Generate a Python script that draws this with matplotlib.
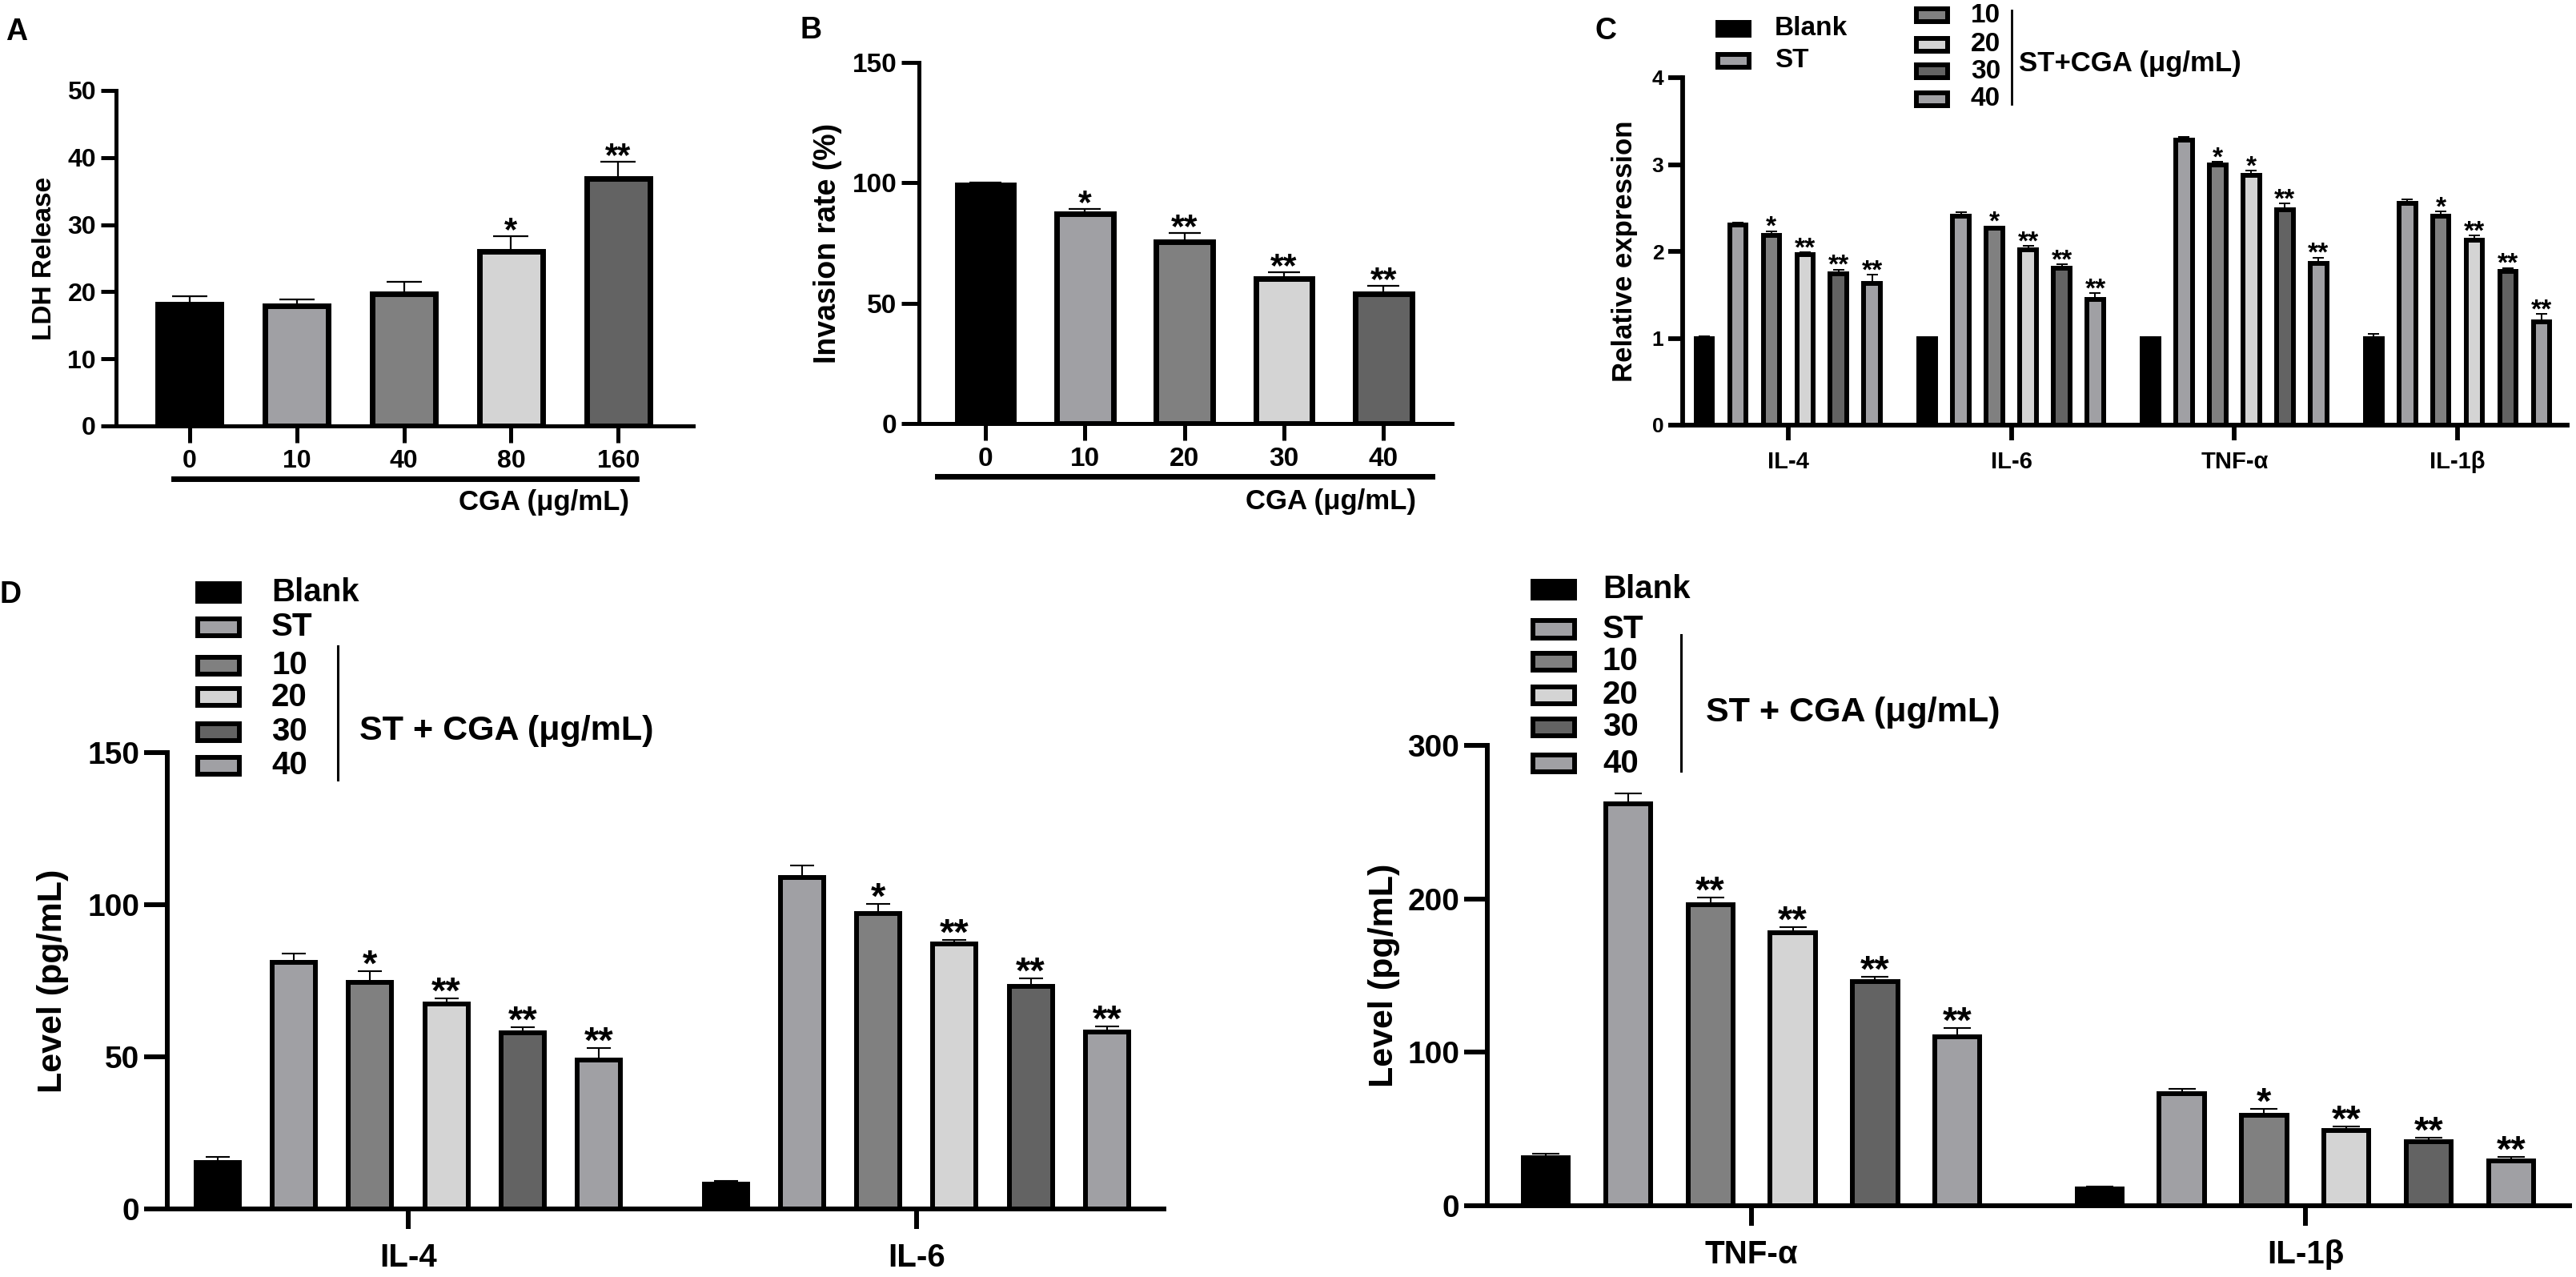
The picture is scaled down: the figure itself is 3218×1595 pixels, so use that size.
import numpy as np
import matplotlib
matplotlib.use('Agg')
import matplotlib.pyplot as plt
from matplotlib import font_manager
from matplotlib.patches import Rectangle
from matplotlib.lines import Line2D
import matplotlib.transforms as mtransforms

W, H = 3218, 1595
DPI = 100

names = {f.name for f in font_manager.fontManager.ttflist}
MAIN = 'Liberation Sans' if 'Liberation Sans' in names else 'DejaVu Sans'
plt.rcParams['font.family'] = [MAIN, 'DejaVu Sans']
plt.rcParams['font.weight'] = 'bold'

# ---- data -------------------------------------------------------------
# panel A
a_doses = ['0', '10', '40', '80', '160']
a_ldh = [18.1, 17.9, 19.7, 26.0, 36.9]
a_ldh_err = [1.2, 1.0, 1.8, 2.3, 2.5]
a_stars = ['', '', '', '*', '**']

# panel B
b_doses = ['0', '10', '20', '30', '40']
b_inv = [99.2, 87.2, 75.6, 60.3, 53.8]
b_inv_err = [1.0, 1.8, 3.5, 2.7, 3.3]
b_stars = ['', '*', '**', '**', '**']

dose_colors = ['#000000', '#a0a0a4', '#808080', '#d4d4d4', '#636363']

# shared groups for C and D
groups = ['Blank', 'ST', '10', '20', '30', '40']
group_colors = ['#000000', '#a0a0a4', '#808080', '#d4d4d4', '#636363', '#a0a0a4']

# panel C (relative expression)
c_genes = ['IL-4', 'IL-6', 'TNF-α', 'IL-1β']
c_blank = [1.00, 1.00, 1.00, 1.00]
c_st = [2.30, 2.41, 3.28, 2.55]
c_10 = [2.18, 2.27, 3.00, 2.41]
c_20 = [1.96, 2.02, 2.88, 2.13]
c_30 = [1.74, 1.81, 2.48, 1.77]
c_40 = [1.63, 1.45, 1.86, 1.19]
c_blank_err = [0.02, 0.00, 0.01, 0.05]
c_st_err = [0.03, 0.04, 0.04, 0.05]
c_10_err = [0.05, 0.02, 0.03, 0.05]
c_20_err = [0.03, 0.04, 0.05, 0.05]
c_30_err = [0.05, 0.04, 0.07, 0.04]
c_40_err = [0.10, 0.07, 0.07, 0.09]
c_stars_10 = ['*', '*', '*', '*']
c_stars_20 = ['**', '**', '*', '**']
c_stars_30 = ['**', '**', '**', '**']
c_stars_40 = ['**', '**', '**', '**']

# panel D left
d1_genes = ['IL-4', 'IL-6']
d1_blank = [15.2, 8.2]
d1_st = [81.0, 109.0]
d1_10 = [74.5, 97.1]
d1_20 = [67.3, 87.0]
d1_30 = [57.9, 73.2]
d1_40 = [49.0, 58.2]
d1_blank_err = [1.8, 1.1]
d1_st_err = [3.0, 3.8]
d1_10_err = [3.7, 3.2]
d1_20_err = [1.9, 1.3]
d1_30_err = [1.9, 2.6]
d1_40_err = [4.0, 1.9]
d1_stars_10 = ['*', '*']
d1_stars_20 = ['**', '**']
d1_stars_30 = ['**', '**']
d1_stars_40 = ['**', '**']

# panel D right
d2_genes = ['TNF-α', 'IL-1β']
d2_blank = [31.5, 10.8]
d2_st = [262.0, 72.8]
d2_10 = [196.0, 59.0]
d2_20 = [178.0, 49.0]
d2_30 = [146.0, 42.0]
d2_40 = [110.0, 29.2]
d2_blank_err = [2.5, 1.9]
d2_st_err = [6.5, 3.2]
d2_10_err = [5.0, 4.0]
d2_20_err = [3.5, 2.8]
d2_30_err = [3.0, 2.5]
d2_40_err = [6.0, 2.6]
d2_stars_10 = ['**', '*']
d2_stars_20 = ['**', '**']
d2_stars_30 = ['**', '**']
d2_stars_40 = ['**', '**']

# ---- helpers ----------------------------------------------------------
fig = plt.figure(figsize=(W / DPI, H / DPI), dpi=DPI)


def px_axes(left, top, right, bottom):
    return fig.add_axes([left / W, 1 - bottom / H, (right - left) / W, (bottom - top) / H])


def fx(x):
    return x / W


def fy(y):
    return 1 - y / H


def style(ax, lw, ylen, xlen, yfs, xfs, xpad):
    for s in ['top', 'right']:
        ax.spines[s].set_visible(False)
    for s in ['left', 'bottom']:
        ax.spines[s].set_linewidth(lw)
    ax.tick_params(axis='y', width=lw, length=ylen, labelsize=yfs, pad=4)
    ax.tick_params(axis='x', width=lw, length=xlen, labelsize=xfs, pad=xpad)
    for t in ax.get_xticklabels() + ax.get_yticklabels():
        t.set_fontweight('bold')


def bars_with_err(ax, x, vals, errs, stars, colors, width, elw, lw, cap, sfs):
    ax.bar(x, vals, width=width, color=colors, edgecolor='black', linewidth=lw, zorder=2)
    ax.errorbar(x, vals, yerr=[np.zeros(len(errs)), errs], fmt='none', ecolor='black',
                elinewidth=elw, capsize=cap, capthick=elw, zorder=3)
    for xi, v, e, s in zip(x, vals, errs, stars):
        if s:
            ax.annotate(s, (xi, v + e), xytext=(0, -sfs * 0.12), textcoords='offset points',
                        ha='center', va='baseline', fontsize=sfs, fontweight='bold')


def panel_letter(x, y, s):
    fig.text(fx(x), fy(y), s, fontsize=27, fontweight='bold', ha='left', va='baseline')


def legend_rows(names_, colors, xbox, ys, bw, bh, xtext, fs, lw):
    for n, c, y in zip(names_, colors, ys):
        fig.add_artist(Rectangle((fx(xbox), fy(y + bh / 2)), bw / W, bh / H,
                                 transform=fig.transFigure, facecolor=c,
                                 edgecolor='black', linewidth=lw))
        fig.text(fx(xtext), fy(y), n, fontsize=fs, fontweight='bold', ha='left', va='center')


# ---- panel A ----------------------------------------------------------
axA = px_axes(145, 113, 866, 532)
xa = np.arange(len(a_ldh))
bars_with_err(axA, xa, a_ldh, a_ldh_err, a_stars, dose_colors, 0.59, 1.6, 5, 16, 30)
axA.set_xlim(-0.687, 4.70)
axA.set_ylim(0, 50)
axA.set_yticks(np.arange(0, 51, 10))
axA.set_xticks(xa)
axA.set_xticklabels(a_doses)
style(axA, 3.6, 14, 15, 23, 23, 6)
axA.set_ylabel('LDH Release', fontsize=24, fontweight='bold', va='center')
axA.yaxis.set_label_coords(-89 / 721, 0.5)
trA = mtransforms.blended_transform_factory(axA.transData, axA.transAxes)
axA.add_line(Line2D([-0.149, 4.17], [-0.1575, -0.1575], transform=trA, color='black',
                    lw=5, clip_on=False))
axA.text(4.10, -0.227, 'CGA (μg/mL)', transform=trA, ha='right', va='center',
         fontsize=25, fontweight='bold')
panel_letter(7, 50, 'A')

# ---- panel B ----------------------------------------------------------
axB = px_axes(1148, 78, 1814, 529)
xb = np.arange(len(b_inv))
bars_with_err(axB, xb, b_inv, b_inv_err, b_stars, dose_colors, 0.57, 1.6, 5, 14.5, 31)
axB.set_xlim(-0.668, 4.69)
axB.set_ylim(0, 150)
axB.set_yticks([0, 50, 100, 150])
axB.set_xticks(xb)
axB.set_xticklabels(b_doses)
style(axB, 3.6, 16, 15, 24, 24, 6)
axB.set_ylabel('Invasion rate (%)', fontsize=27, fontweight='bold', va='center')
axB.yaxis.set_label_coords(-114 / 666, 0.5)
trB = mtransforms.blended_transform_factory(axB.transData, axB.transAxes)
axB.add_line(Line2D([-0.483, 4.49], [-0.146, -0.146], transform=trB, color='black',
                    lw=5, clip_on=False))
axB.text(4.33, -0.217, 'CGA (μg/mL)', transform=trB, ha='right', va='center',
         fontsize=25, fontweight='bold')
panel_letter(1000, 48, 'B')

# ---- panel C ----------------------------------------------------------
axC = px_axes(2102, 97, 3207, 531)
xc = np.arange(len(c_genes))
c_vals = [c_blank, c_st, c_10, c_20, c_30, c_40]
c_errs = [c_blank_err, c_st_err, c_10_err, c_20_err, c_30_err, c_40_err]
c_stars = [[''] * 4, [''] * 4, c_stars_10, c_stars_20, c_stars_30, c_stars_40]
for i in range(len(groups)):
    bars_with_err(axC, xc + (i - 2.5) * 0.1505, c_vals[i], c_errs[i], c_stars[i],
                  [group_colors[i]] * len(xc), 0.074, 1.4, 4.3, 5, 24)
axC.set_xlim(-0.473, 3.491)
axC.set_ylim(0, 4)
axC.set_yticks([0, 1, 2, 3, 4])
axC.set_xticks(xc)
axC.set_xticklabels(c_genes)
style(axC, 4.2, 13, 14, 19, 21, 9)
axC.set_ylabel('Relative expression', fontsize=25, fontweight='bold', va='center')
axC.yaxis.set_label_coords(-72 / 1105, 0.5)
panel_letter(1992, 49, 'C')
legend_rows(groups[:2], group_colors[:2], 2146, [36, 76], 39, 16, 2217, 24, 4.3)
legend_rows(groups[2:], group_colors[2:], 2394, [19, 56, 89, 124], 39, 16, 2462, 24, 4.3)
fig.add_artist(Line2D([fx(2513), fx(2513)], [fy(13), fy(130)], transform=fig.transFigure,
                      color='black', lw=2))
fig.text(fx(2522), fy(79), 'ST+CGA (μg/mL)', fontsize=25, fontweight='bold',
         ha='left', va='center')

# ---- panel D left -----------------------------------------------------
axD1 = px_axes(209, 940, 1454, 1510)
xd1 = np.arange(len(d1_genes))
d1_vals = [d1_blank, d1_st, d1_10, d1_20, d1_30, d1_40]
d1_errs = [d1_blank_err, d1_st_err, d1_10_err, d1_20_err, d1_30_err, d1_40_err]
d1_stars = [[''] * 2, [''] * 2, d1_stars_10, d1_stars_20, d1_stars_30, d1_stars_40]
for i in range(len(groups)):
    bars_with_err(axD1, xd1 + (i - 2.5) * 0.15, d1_vals[i], d1_errs[i], d1_stars[i],
                  [group_colors[i]] * len(xd1), 0.085, 1.5, 4.3, 11, 34)
axD1.set_xlim(-0.474, 1.487)
axD1.set_ylim(0, 150)
axD1.set_yticks([0, 50, 100, 150])
axD1.set_xticks(xd1)
axD1.set_xticklabels(d1_genes)
style(axD1, 4.3, 21, 18, 28, 29, 12)
axD1.set_ylabel('Level (pg/mL)', fontsize=31, fontweight='bold', va='center')
axD1.yaxis.set_label_coords(-143 / 1245, 0.5)
panel_letter(0, 753, 'D')
legend_rows(groups, group_colors, 247, [740, 783, 831, 871, 914, 956], 52, 21, 339, 29, 4.3)
fig.add_artist(Line2D([fx(422), fx(422)], [fy(807), fy(974)], transform=fig.transFigure,
                      color='black', lw=2.2))
fig.text(fx(449), fy(913), 'ST + CGA (μg/mL)', fontsize=31, fontweight='bold',
         ha='left', va='center')

# ---- panel D right ----------------------------------------------------
axD2 = px_axes(1858, 931, 3210, 1506)
xd2 = np.arange(len(d2_genes))
d2_vals = [d2_blank, d2_st, d2_10, d2_20, d2_30, d2_40]
d2_errs = [d2_blank_err, d2_st_err, d2_10_err, d2_20_err, d2_30_err, d2_40_err]
d2_stars = [[''] * 2, [''] * 2, d2_stars_10, d2_stars_20, d2_stars_30, d2_stars_40]
for i in range(len(groups)):
    bars_with_err(axD2, xd2 + (i - 2.5) * 0.1488, d2_vals[i], d2_errs[i], d2_stars[i],
                  [group_colors[i]] * len(xd2), 0.081, 1.5, 4.3, 12, 34)
axD2.set_xlim(-0.477, 1.477)
axD2.set_ylim(0, 300)
axD2.set_yticks([0, 100, 200, 300])
axD2.set_xticks(xd2)
axD2.set_xticklabels(d2_genes)
style(axD2, 4.3, 21, 18, 28, 29, 12)
axD2.set_ylabel('Level (pg/mL)', fontsize=31, fontweight='bold', va='center')
axD2.yaxis.set_label_coords(-129 / 1352, 0.5)
legend_rows(groups, group_colors, 1915, [736, 786, 826, 868, 908, 954], 52, 21, 2002, 29, 4.3)
fig.add_artist(Line2D([fx(2100), fx(2100)], [fy(793), fy(963)], transform=fig.transFigure,
                      color='black', lw=2.2))
fig.text(fx(2131), fy(890), 'ST + CGA (μg/mL)', fontsize=31, fontweight='bold',
         ha='left', va='center')

fig.savefig('out.png', dpi=DPI, facecolor='white')
